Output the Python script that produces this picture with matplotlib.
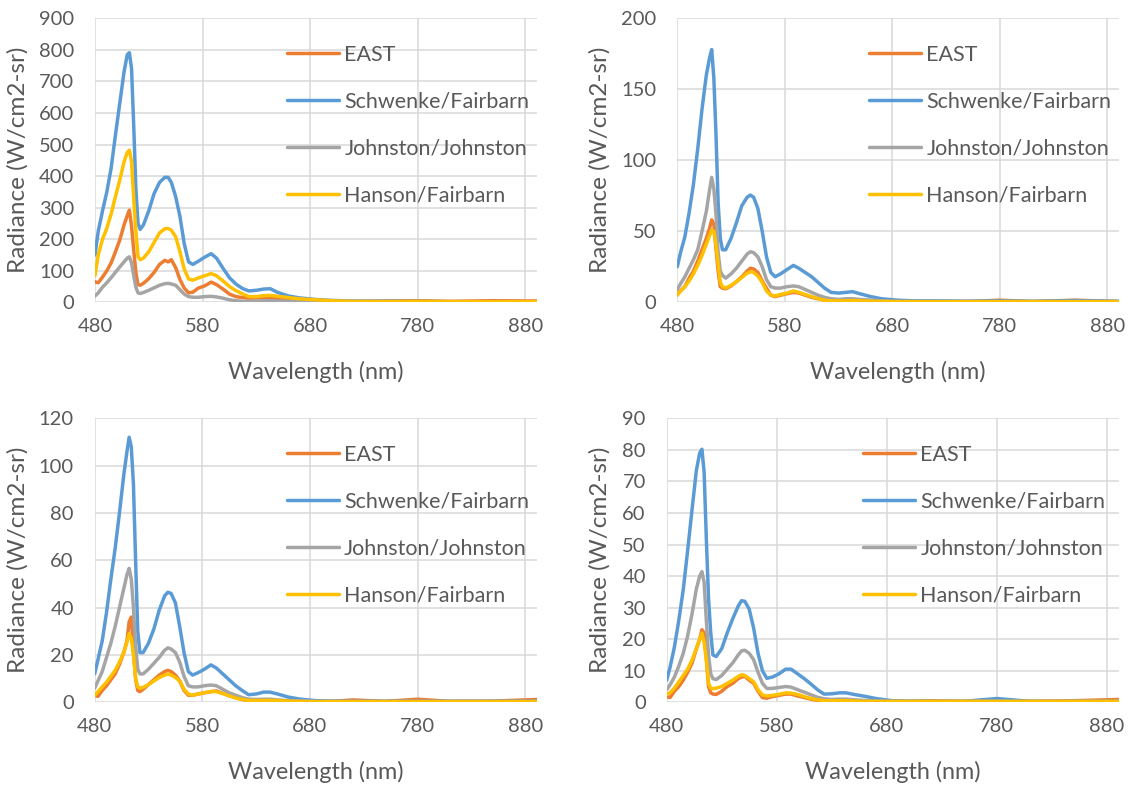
import matplotlib
matplotlib.use("Agg")
import matplotlib.pyplot as plt

plt.rcParams["font.family"] = ["Lato", "DejaVu Sans"]

# Wavelength sampling (nm)
wavelength = [480, 483, 487, 491, 495, 499, 503, 507, 510, 512,
              514, 516, 518, 520, 522, 525, 530, 535, 540, 545,
              548, 551, 555, 559, 563, 567, 571, 576, 582, 588,
              593, 599, 605, 611, 617, 623, 630, 637, 643, 650,
              660, 670, 685, 700, 720, 750, 780, 810, 850, 891]

series_names = ["EAST", "Schwenke/Fairbarn", "Johnston/Johnston", "Hanson/Fairbarn"]
series_colors = ["#ED7D31", "#5B9BD5", "#A5A5A5", "#FFC000"]

# Panel 1 (top left)
p1_east = [65, 62, 80, 100, 125, 160, 197, 245, 275, 292,
           240, 165, 95, 56, 54, 60, 75, 95, 120, 133,
           128, 135, 110, 72, 45, 30, 32, 45, 52, 64,
           56, 42, 26, 18, 15, 13, 14, 16, 15, 12,
           9, 7, 5, 4, 3, 4, 5, 3, 5, 4]
p1_schwenke = [150, 225, 290, 350, 425, 530, 630, 730, 785, 791,
               740, 560, 360, 250, 231, 245, 290, 345, 380, 396,
               396, 380, 335, 272, 185, 128, 120, 130, 143, 154,
               140, 108, 78, 58, 44, 36, 38, 42, 43, 31,
               20, 14, 9, 6, 4, 3, 3, 2, 2, 2]
p1_johnston = [20, 30, 48, 62, 78, 95, 112, 128, 140, 144,
               125, 85, 48, 30, 28, 31, 38, 46, 54, 59,
               60, 58, 54, 40, 26, 18, 16, 16, 18, 19,
               17, 13, 8, 5, 3, 3, 4, 5, 5, 4,
               3, 2, 1, 1, 1, 1, 1, 1, 1, 1]
p1_hanson = [85, 150, 200, 235, 280, 335, 387, 445, 475, 482,
             445, 330, 225, 145, 135, 140, 160, 190, 220, 233,
             234, 228, 208, 160, 105, 74, 70, 77, 84, 91,
             84, 68, 50, 37, 27, 18, 18, 21, 22, 19,
             15, 11, 8, 5, 3, 2, 3, 2, 2, 2]

# Panel 2 (top right)
p2_east = [6, 8, 11, 17, 22, 29, 37, 45, 52, 58,
           55, 38, 22, 11, 10, 9.5, 11.5, 14.5, 18, 22,
           24, 23.5, 21, 15, 10, 5, 4, 5, 6, 7,
           6.5, 5, 3.5, 2.5, 1.5, 1, 1, 1.2, 1.2, 1,
           0.8, 0.6, 0.5, 0.5, 0.5, 0.5, 1.5, 0.5, 1.5, 0.5]
p2_schwenke = [25, 35, 46, 63, 83, 108, 136, 160, 172, 178,
               158, 118, 70, 45, 37, 37, 45, 56, 68, 74,
               75.5, 74, 66, 50, 32, 21, 18, 20, 23, 26,
               24, 21, 18, 14, 10, 7, 6.5, 7, 7.5, 6,
               4, 2.5, 1.5, 1, 1, 0.8, 1, 0.7, 1.2, 0.7]
p2_johnston = [9, 13, 18, 24, 30, 37, 50, 64, 79, 88,
               80, 62, 35, 22, 19, 17, 20, 24, 29, 34,
               35.6, 35, 32, 25, 16, 11, 10, 10, 11, 11.5,
               11, 9, 7, 5, 3.5, 2.5, 2, 2.5, 2.5, 2,
               1.5, 1, 0.7, 0.5, 0.5, 0.5, 0.5, 0.5, 0.5, 0.5]
p2_hanson = [5, 8, 11, 15, 20, 26, 33, 41, 47, 51,
             50, 40, 27, 14, 11, 10, 12, 14.5, 17.5, 20.5,
             21.5, 21, 18.5, 14, 8, 5, 4.5, 5.5, 6.5, 8,
             7, 5.5, 4, 2.5, 1.5, 1, 1, 1, 1.2, 1,
             0.8, 0.6, 0.5, 0.5, 0.5, 0.5, 0.5, 0.5, 0.5, 0.5]

# Panel 3 (bottom left)
p3_east = [3, 2.5, 5, 7, 9.5, 12, 16, 21, 26, 34,
           36, 22, 10, 5, 4.5, 5.5, 7.5, 9.5, 11.5, 13,
           13.5, 13, 11.5, 9, 5, 3, 3, 3.5, 4, 4.5,
           4.8, 3.8, 2.8, 2, 1.2, 0.8, 0.8, 0.8, 0.8, 0.7,
           0.5, 0.4, 0.4, 0.4, 1, 0.4, 1.3, 0.4, 0.5, 1.2]
p3_schwenke = [12, 18, 26, 38, 52, 65, 80, 96, 106, 112,
               108, 92, 60, 30, 21, 21, 25, 31, 39, 45,
               46.5, 46, 42, 32, 21, 13, 11.5, 12.5, 14, 15.8,
               14.5, 12, 9.5, 7, 5, 3.2, 3.5, 4.3, 4.3, 3.5,
               2.2, 1.4, 0.7, 0.5, 0.4, 0.4, 0.4, 0.4, 0.4, 0.4]
p3_johnston = [6, 9, 13, 19, 25, 32, 40, 48, 54, 56.6,
               52, 40, 24, 14, 12, 12, 14, 16.5, 19, 22,
               23, 22.5, 21, 17, 11, 7, 6.5, 6.5, 7, 7.3,
               7, 5.5, 4, 3, 2, 1.3, 1.2, 1.3, 1.3, 1,
               0.7, 0.5, 0.4, 0.4, 0.4, 0.4, 0.4, 0.4, 0.4, 0.4]
p3_hanson = [3, 4.5, 6.5, 8.5, 11, 13.5, 17, 21, 25.5, 29,
             27, 20, 10, 6.5, 6, 6.3, 7.5, 9, 10.5, 11.5,
             12, 11.5, 10.5, 9, 5.5, 3.5, 3, 3.5, 4, 4.6,
             4.5, 3.7, 2.7, 1.8, 1.2, 0.8, 0.7, 0.8, 0.8, 0.7,
             0.5, 0.4, 0.3, 0.3, 0.3, 0.3, 0.3, 0.3, 0.3, 0.3]

# Panel 4 (bottom right)
p4_east = [1.8, 1.5, 3.5, 5, 7, 9.5, 12.4, 17, 20, 23,
           22, 14, 5, 3, 2.6, 2.5, 3.5, 5, 6, 7.5,
           8, 8.2, 7, 6, 3.5, 1.5, 1.3, 1.8, 2.2, 2.6,
           2.6, 2, 1.5, 1, 0.6, 0.4, 0.4, 0.4, 0.4, 0.4,
           0.4, 0.3, 0.3, 0.3, 0.5, 0.3, 0.8, 0.3, 0.5, 0.9]
p4_schwenke = [7, 11, 17.5, 26, 35.6, 48, 61, 73.6, 79, 80.2,
               73, 52, 33, 22, 15, 14.5, 17, 22, 26.5, 30.5,
               32.2, 32, 29.5, 23.5, 15.5, 10, 7.6, 8, 9, 10.5,
               10.5, 9, 7.5, 5.8, 4, 2.6, 2.7, 3, 3, 2.5,
               1.9, 1.2, 0.5, 0.4, 0.3, 0.3, 1.2, 0.3, 0.3, 0.3]
p4_johnston = [4, 5.5, 8, 11.5, 15.5, 21, 28, 36, 40, 41.4,
               38, 26, 15, 9, 7.5, 7.2, 8.5, 10.5, 12.5, 15,
               16.3, 16.5, 15.5, 13.5, 9.5, 6, 4.4, 4.4, 4.7, 5,
               4.8, 4, 3.2, 2.4, 1.6, 1.1, 0.9, 1, 1, 0.8,
               0.6, 0.4, 0.3, 0.3, 0.3, 0.3, 0.3, 0.3, 0.3, 0.3]
p4_hanson = [2.5, 3, 4.5, 6.5, 8.5, 10.5, 13.4, 17, 20, 21.9,
             19, 13.4, 6, 4.5, 4.3, 4.5, 5, 6, 7, 8.2,
             8.7, 8.5, 7.5, 6.5, 4, 2.3, 2, 2.2, 2.5, 3,
             2.9, 2.5, 1.8, 1.2, 0.8, 0.5, 0.5, 0.5, 0.5, 0.4,
             0.3, 0.3, 0.3, 0.3, 0.3, 0.3, 0.3, 0.3, 0.3, 0.3]

x_ticks = [480, 580, 680, 780, 880]
y_ticks = [
    [0, 100, 200, 300, 400, 500, 600, 700, 800, 900],
    [0, 50, 100, 150, 200],
    [0, 20, 40, 60, 80, 100, 120],
    [0, 10, 20, 30, 40, 50, 60, 70, 80, 90],
]
panels = [
    [p1_east, p1_schwenke, p1_johnston, p1_hanson],
    [p2_east, p2_schwenke, p2_johnston, p2_hanson],
    [p3_east, p3_schwenke, p3_johnston, p3_hanson],
    [p4_east, p4_schwenke, p4_johnston, p4_hanson],
]

W, H = 1128, 785
fig = plt.figure(figsize=(W / 100, H / 100), dpi=100)
fig.patch.set_facecolor("white")

# plot-area boxes in pixels: left, top, right, bottom
boxes = [
    (95.0, 18.3, 537.0, 302.3),
    (677.3, 18.3, 1119.0, 302.3),
    (94.7, 418.3, 537.0, 702.3),
    (666.7, 418.3, 1119.0, 702.3),
]
ylabel_x = [18, 600, 18, 600]

text_color = "#595959"
grid_color = "#D9D9D9"

for i, (box, data) in enumerate(zip(boxes, panels)):
    l, t, r, b = box
    ax = fig.add_axes([l / W, 1 - b / H, (r - l) / W, (b - t) / H])
    for vals, name, col in zip(data, series_names, series_colors):
        ax.plot(wavelength, vals, color=col, lw=2.5, label=name,
                solid_joinstyle="round", solid_capstyle="round")
    ax.set_xlim(480, 891)
    ax.set_ylim(y_ticks[i][0], y_ticks[i][-1])
    ax.set_xticks(x_ticks)
    ax.set_yticks(y_ticks[i])
    ax.grid(True, color=grid_color, lw=1.1)
    ax.set_axisbelow(True)
    for s in ax.spines.values():
        s.set_visible(False)
    ax.tick_params(length=0, labelsize=14.5, labelcolor=text_color)
    ax.tick_params(axis="x", pad=11)
    ax.tick_params(axis="y", pad=15)
    ax.set_xlabel("Wavelength (nm)", fontsize=16.8, color=text_color, va="center")
    ax.xaxis.set_label_coords((l + r) / 2 / W, 1 - (t + 354) / H,
                              transform=fig.transFigure)
    ax.set_ylabel("Radiance (W/cm2-sr)", fontsize=17.5, color=text_color, va="center")
    ax.yaxis.set_label_coords(ylabel_x[i] / W, 1 - (t + b) / 2 / H,
                              transform=fig.transFigure)
    leg_x = (l + 0.437 * (r - l) - 1) / W
    leg_y = 1 - (t + 26.5) / H
    ax.legend(loc="upper left", bbox_to_anchor=(leg_x, leg_y),
              bbox_transform=fig.transFigure, frameon=False, fontsize=15.5,
              handlelength=2.4, handletextpad=0.25, labelspacing=1.25,
              borderpad=0, borderaxespad=0, labelcolor=text_color)

fig.savefig("out.png", dpi=100, facecolor="white")
